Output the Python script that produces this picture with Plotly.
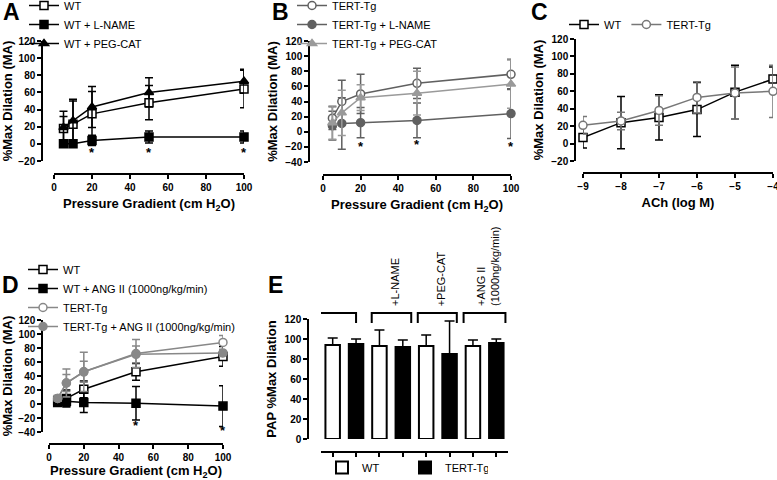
import plotly.graph_objects as go

W, H = 777, 480
def px(x): return x / W
def py(y): return 1 - y / H

# ---------------- data ----------------
press = [5, 10, 20, 50, 100]
# Panel A
a_wt = [18, 23, 35, 48, 64];      a_wt_err = [14, 27, 26, 20, 22]
a_lname = [0, 0, 4, 8, 8];        a_lname_err = [0, 0, 6, 7, 7]
a_peg = [19, 27, 43, 60, 73];     a_peg_err = [19, 25, 24, 17, 14]
a_sig_x = [20, 50, 100];          a_sig_y = [-10, -10, -10]
# Panel B
b_tert = [18, 40, 50, 64, 76];    b_tert_err = [15, 28, 26, 20, 20]
b_lname = [8, 11, 12, 15, 24];    b_lname_err = [19, 34, 20, 23, 33]
b_peg = [12, 25, 45, 51, 63];     b_peg_err = [22, 30, 17, 29, 32]
b_sig_x = [20, 50, 100];          b_sig_y = [-19, -17, -19]
# Panel C
ach = [-9, -8, -7, -6, -5, -4]
c_wt = [7, 24, 30, 39, 59, 74];   c_wt_err = [12, 30, 26, 31, 31, 14]
c_tert = [21, 26, 38, 53, 58, 60]; c_tert_err = [10, 10, 17, 18, 30, 30]
# Panel D
d_wt = [5, 8, 21, 46, 68];        d_wt_err = [5, 12, 12, 12, 14]
d_wt_ang = [2, 4, 2, 1, -3];      d_wt_ang_err = [4, 8, 14, 24, 29]
d_tert = [8, 30, 46, 72, 88];     d_tert_err = [4, 20, 28, 20, 10]
d_tert_ang = [8, 30, 46, 71, 73]; d_tert_ang_err = [4, 12, 15, 12, 5]
d_sig_x = [50, 100];              d_sig_y = [-30, -38]
# Panel E
e_groups = ["", "+L-NAME", "+PEG-CAT", "+ANG II<br>(1000ng/kg/min)"]
e_wt = [94, 93, 93, 93];          e_wt_err = [7, 16, 11, 6]
e_tert = [95, 92, 85, 96];        e_tert_err = [5, 7, 33, 4]

BLACK = "#000000"
DGRAY = "#606060"
LGRAY = "#9a9a9a"
FONT = "Arial, Liberation Sans, sans-serif"

fig = go.Figure()

def add_line(x, y, err, name, color, symbol, fill, xa, ya, legend):
    fig.add_trace(go.Scatter(
        x=x, y=y, name=name, mode="lines+markers",
        line=dict(color=color, width=1.5),
        marker=dict(symbol=symbol, size=8, color=fill,
                    line=dict(color=color, width=1.5)),
        error_y=dict(type="data", array=err, color=color, thickness=1.5, width=4),
        xaxis=xa, yaxis=ya, legend=legend, cliponaxis=False))

# A
add_line(press, a_wt, a_wt_err, "WT", BLACK, "square", "white", "x", "y", "legend")
add_line(press, a_lname, a_lname_err, "WT + L-NAME", BLACK, "square", BLACK, "x", "y", "legend")
add_line(press, a_peg, a_peg_err, "WT + PEG-CAT", BLACK, "triangle-up", BLACK, "x", "y", "legend")
# B
add_line(press, b_tert, b_tert_err, "TERT-Tg", DGRAY, "circle", "white", "x2", "y2", "legend2")
add_line(press, b_lname, b_lname_err, "TERT-Tg + L-NAME", DGRAY, "circle", DGRAY, "x2", "y2", "legend2")
add_line(press, b_peg, b_peg_err, "TERT-Tg + PEG-CAT", LGRAY, "triangle-up", LGRAY, "x2", "y2", "legend2")
# C
add_line(ach, c_wt, c_wt_err, "WT", BLACK, "square", "white", "x3", "y3", "legend3")
add_line(ach, c_tert, c_tert_err, "TERT-Tg", "#777777", "circle", "white", "x3", "y3", "legend3")
# D
add_line(press, d_wt, d_wt_err, "WT", BLACK, "square", "white", "x4", "y4", "legend4")
add_line(press, d_wt_ang, d_wt_ang_err, "WT + ANG II (1000ng/kg/min)", BLACK, "square", BLACK, "x4", "y4", "legend4")
add_line(press, d_tert, d_tert_err, "TERT-Tg", "#888888", "circle", "white", "x4", "y4", "legend4")
add_line(press, d_tert_ang, d_tert_ang_err, "TERT-Tg + ANG II (1000ng/kg/min)", "#888888", "circle", "#888888", "x4", "y4", "legend4")

# E bars
wt_pos = [2 * i for i in range(len(e_wt))]
tert_pos = [2 * i + 1 for i in range(len(e_tert))]
fig.add_trace(go.Bar(x=wt_pos, y=e_wt, name="WT", width=0.62,
                     marker=dict(color="white", line=dict(color=BLACK, width=2)),
                     error_y=dict(type="data", symmetric=False, array=e_wt_err,
                                  arrayminus=[0] * len(e_wt), color=BLACK, thickness=1.5, width=5),
                     xaxis="x5", yaxis="y5", legend="legend5", cliponaxis=False))
fig.add_trace(go.Bar(x=tert_pos, y=e_tert, name="TERT-Tg", width=0.62,
                     marker=dict(color=BLACK, line=dict(color=BLACK, width=2)),
                     error_y=dict(type="data", symmetric=False, array=e_tert_err,
                                  arrayminus=[0] * len(e_tert), color=BLACK, thickness=1.5, width=5),
                     xaxis="x5", yaxis="y5", legend="legend5", cliponaxis=False))

tickfont = dict(family=FONT, size=10, color=BLACK, weight="bold")
titlefont = dict(family=FONT, size=13, color=BLACK, weight="bold")
axcommon = dict(showline=True, linecolor=BLACK, linewidth=1.5, ticks="outside",
                ticklen=4, tickwidth=1.5, tickcolor=BLACK, showgrid=False,
                zeroline=False, tickfont=tickfont, ticklabeloverflow="allow")
xtitle = "Pressure Gradient (cm H<sub>2</sub>O)"
ytitle = "%Max Dilation (MA)"

def xax(x0, x1, yline, rng, dtick, title=None, **kw):
    d = dict(axcommon, domain=[px(x0), px(x1)], anchor="free", position=py(yline),
             range=rng, dtick=dtick, **kw)
    if title:
        d["title"] = dict(text=title, font=titlefont, standoff=6)
    return d

def yax(y0, y1, xline, rng, title, **kw):
    return dict(axcommon, domain=[py(y1), py(y0)], anchor="free", position=px(xline),
                range=rng, dtick=20, title=dict(text=title, font=titlefont, standoff=4), **kw)

fig.update_layout(
    width=W, height=H, margin=dict(l=0, r=0, t=0, b=0, autoexpand=False),
    paper_bgcolor="white", plot_bgcolor="white",
    font=dict(family=FONT, color=BLACK),
    barmode="overlay", showlegend=True,
    xaxis=xax(54, 244, 174, [0, 100], 20, xtitle),
    yaxis=yax(41, 161, 42, [-20, 120], ytitle),
    xaxis2=xax(323, 511, 175, [0, 100], 20, xtitle),
    yaxis2=yax(41, 162, 309, [-40, 120], ytitle),
    xaxis3=xax(583, 773, 173, [-9, -4], 1, "ACh (log M)"),
    yaxis3=yax(39, 161, 575, [-20, 120], ytitle),
    xaxis4=xax(49, 223, 444, [0, 100], 20, xtitle),
    yaxis4=yax(320, 432, 42, [-40, 120], ytitle),
    xaxis5=xax(321, 508, 452, [-0.5, 7.5], 1, None, showticklabels=False,
               tickvals=list(range(8))),
    yaxis5=yax(319, 439, 308, [0, 120], "PAP %Max Dilation"),
)

legfont = dict(family=FONT, size=11, color=BLACK)
fig.update_layout(
    legend=dict(x=px(24), y=py(-9), xanchor="left", yanchor="top", font=legfont,
                bgcolor="rgba(0,0,0,0)"),
    legend2=dict(x=px(292), y=py(-9), xanchor="left", yanchor="top", font=legfont,
                 bgcolor="rgba(0,0,0,0)"),
    legend3=dict(x=px(564), y=py(10), xanchor="left", yanchor="top", font=legfont,
                 orientation="h", bgcolor="rgba(0,0,0,0)"),
    legend4=dict(x=px(23), y=py(255), xanchor="left", yanchor="top", font=legfont,
                 bgcolor="rgba(0,0,0,0)"),
    legend5=dict(x=px(322), y=py(453), xanchor="left", yanchor="top", font=legfont,
                 orientation="h", entrywidth=38, bgcolor="rgba(0,0,0,0)"),
)

ann = []
for lab, (lx, ly) in zip("ABCDE", [(11, 12), (280, 12), (539, 12), (10, 285), (275, 285)]):
    ann.append(dict(text="<b>%s</b>" % lab, x=px(lx), y=py(ly), xref="paper", yref="paper",
                    xanchor="center", yanchor="middle",
                    showarrow=False, font=dict(family=FONT, size=23, color=BLACK)))
for xs, ys, xr, yr in [(a_sig_x, a_sig_y, "x", "y"), (b_sig_x, b_sig_y, "x2", "y2"),
                       (d_sig_x, d_sig_y, "x4", "y4")]:
    for sx, sy in zip(xs, ys):
        ann.append(dict(text="<b>*</b>", x=sx, y=sy, xref=xr, yref=yr, showarrow=False,
                        font=dict(family=FONT, size=13, color=BLACK)))

# E brackets and group labels
br_left = [-0.6, 1.67, 3.64, 5.6]
br_right = [1.0, 3.36, 5.31, 7.39]
shapes = []
for i, g in enumerate(e_groups):
    l, r = br_left[i], br_right[i]
    shapes.append(dict(type="path", xref="x5", yref="paper",
                       path="M %f,%f L %f,%f L %f,%f L %f,%f" % (l, py(323), l, py(313), r, py(313), r, py(323)),
                       line=dict(color=BLACK, width=2)))
    if g:
        ann.append(dict(text=g, x=(l + r) / 2 + 0.15, y=py(308), xref="x5", yref="paper",
                        textangle=-90, xanchor="center", yanchor="bottom", align="left",
                        showarrow=False, font=dict(family=FONT, size=11, color=BLACK)))

fig.update_layout(annotations=ann, shapes=shapes)
fig.write_html("out.html", config={"displayModeBar": False},
               post_script="document.body.style.margin='0';document.body.style.overflow='hidden';")
